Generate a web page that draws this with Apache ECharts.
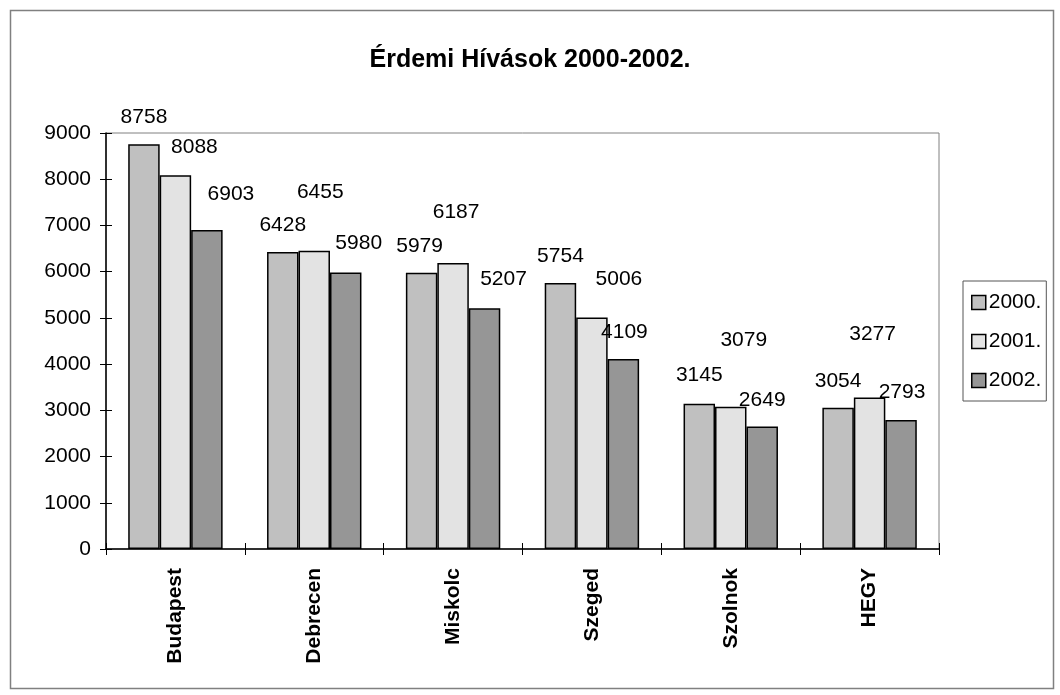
<!DOCTYPE html>
<html>
<head>
<meta charset="utf-8">
<script src="https://cdn.jsdelivr.net/npm/echarts@6/dist/echarts.min.js"></script>
<style>
  html, body { margin: 0; padding: 0; background: #fff; }
  #chart { width: 1060px; height: 695px; }
</style>
</head>
<body>
<div id="chart"></div>
<script>
// adatok
const cities = ['Budapest', 'Debrecen', 'Miskolc', 'Szeged', 'Szolnok', 'HEGY'];
const years = ['2000.', '2001.', '2002.'];
const calls2000 = [8758, 6428, 5979, 5754, 3145, 3054];
const calls2001 = [8088, 6455, 6187, 5006, 3079, 3277];
const calls2002 = [6903, 5980, 5207, 4109, 2649, 2793];
const yTicks = [0, 1000, 2000, 3000, 4000, 5000, 6000, 7000, 8000, 9000];

// label nudges, same as in the original excel chart (dx, dy)
const nudge2000 = [[0, 0], [0, 0], [-2, 0], [0, 0], [0, -2], [0, 0]];
const nudge2001 = [[19, -1], [6, -32], [3, -24], [27, -12], [13, -40], [3, -37]];
const nudge2002 = [[24, -9], [13, -3], [19, -3], [1, 0], [0, 0], [1, -1]];

const font = 'Arial, "Liberation Sans", sans-serif';
const colors = ['#c0c0c0', '#e3e3e3', '#969696'];

function withLabels(values, nudge) {
    return values.map((v, i) => ({ value: v, label: { offset: nudge[i] } }));
}

function barSeries(name, values, nudge, color) {
    return {
        name: name,
        type: 'bar',
        xAxisIndex: 0,
        yAxisIndex: 0,
        barGap: '0%',
        barCategoryGap: '32%',
        data: withLabels(values, nudge),
        itemStyle: { color: color, borderColor: '#000', borderWidth: 1.5 },
        label: {
            show: true,
            position: 'top',
            distance: 16,
            color: '#000',
            fontFamily: font,
            fontSize: 21
        }
    };
}

const myChart = echarts.init(document.getElementById('chart'));
myChart.setOption({
    backgroundColor: '#fff',
    animation: false,
    title: {
        text: 'Érdemi Hívások 2000-2002.',
        left: 'center',
        top: 43,
        textStyle: { fontFamily: font, fontSize: 25, fontWeight: 'bold', color: '#000' }
    },
    legend: {
        data: years,
        orient: 'vertical',
        left: 963,
        top: 281,
        itemWidth: 14,
        itemHeight: 14,
        itemGap: 18,
        padding: [11, 5, 10, 8],
        borderColor: '#555',
        borderWidth: 1,
        icon: 'rect',
        itemStyle: { borderColor: '#000', borderWidth: 1.5 },
        textStyle: { fontFamily: font, fontSize: 21, lineHeight: 20, color: '#000', padding: [0, 0, 0, -2] }
    },
    grid: {
        left: 106,
        right: 121,
        top: 133,
        bottom: 146,
        show: true,
        borderColor: '#808080',
        borderWidth: 1,
        backgroundColor: '#fff'
    },
    xAxis: [{
        type: 'category',
        data: cities,
        axisLine: { lineStyle: { color: '#000', width: 1.5 } },
        axisTick: { show: true, length: 6, lineStyle: { color: '#000' } },
        axisLabel: {
            rotate: 90,
            margin: 19,
            fontFamily: font,
            fontSize: 21,
            fontWeight: 'bold',
            color: '#000'
        }
    }, {
        // inner half of the crossing ticks
        type: 'category',
        data: cities,
        position: 'bottom',
        axisLine: { show: false },
        axisTick: { show: true, inside: true, length: 6, lineStyle: { color: '#000' } },
        axisLabel: { show: false }
    }],
    yAxis: [{
        type: 'value',
        min: yTicks[0],
        max: yTicks[yTicks.length - 1],
        interval: 1000,
        axisLine: { show: true, lineStyle: { color: '#000', width: 1.5 } },
        axisTick: { show: true, length: 6, lineStyle: { color: '#000' } },
        splitLine: { show: false },
        axisLabel: {
            margin: 15,
            fontFamily: font,
            fontSize: 21,
            color: '#000',
            formatter: v => String(v)
        }
    }, {
        type: 'value',
        position: 'left',
        min: yTicks[0],
        max: yTicks[yTicks.length - 1],
        interval: 1000,
        axisLine: { show: false },
        axisTick: { show: true, inside: true, length: 6, lineStyle: { color: '#000' } },
        splitLine: { show: false },
        axisLabel: { show: false }
    }],
    series: [
        barSeries(years[0], calls2000, nudge2000, colors[0]),
        barSeries(years[1], calls2001, nudge2001, colors[1]),
        barSeries(years[2], calls2002, nudge2002, colors[2])
    ],
    graphic: [{
        type: 'rect',
        left: 8,
        top: 8,
        shape: { width: 1043, height: 678 },
        style: { fill: 'none', stroke: '#808080', lineWidth: 1.5 },
        silent: true
    }]
});
</script>
</body>
</html>
